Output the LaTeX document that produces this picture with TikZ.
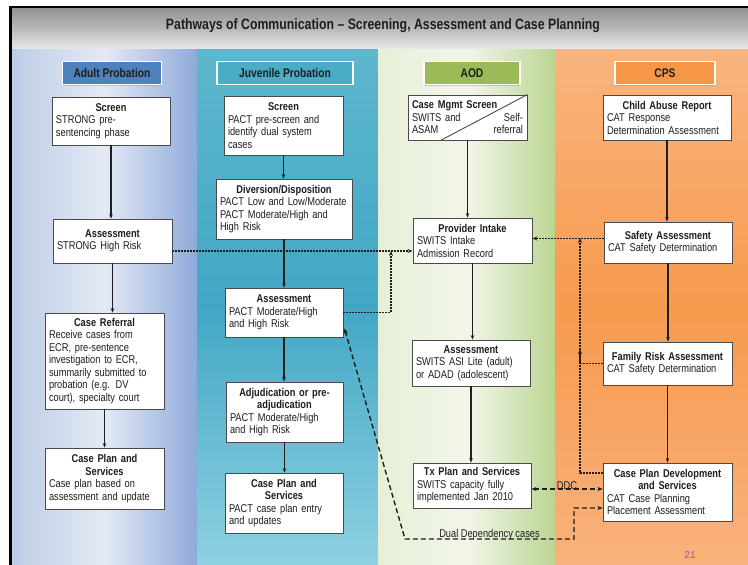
\documentclass[tikz,border=0pt]{standalone}
\usepackage{fontspec}
\setmainfont{Liberation Sans}
\newfontfamily\narrowfont[FakeStretch=0.82]{Liberation Sans}
\newfontfamily\boxfont[FakeStretch=0.82]{Liberation Sans}
\usetikzlibrary{arrows.meta,shadows}

\definecolor{boxline}{HTML}{4A4A4A}
\definecolor{textdark}{HTML}{1E1E1E}
\definecolor{adultA}{HTML}{BCCBE6}
\definecolor{adultB}{HTML}{E4EAF5}
\definecolor{adultC}{HTML}{8FAAD9}
\definecolor{juvA}{HTML}{5EB7CE}
\definecolor{juvB}{HTML}{42A7C5}
\definecolor{juvC}{HTML}{8ED1E2}
\definecolor{aodA}{HTML}{E6EFD6}
\definecolor{aodB}{HTML}{F2F6EA}
\definecolor{aodC}{HTML}{BCD592}
\definecolor{cpsA}{HTML}{F9B57F}
\definecolor{cpsB}{HTML}{F79A4E}
\definecolor{cpsC}{HTML}{F9B27C}
\definecolor{adultlab}{HTML}{4F81BD}
\definecolor{juvlab}{HTML}{4BACC6}
\definecolor{aodlab}{HTML}{9BBB59}
\definecolor{cpslab}{HTML}{F79646}
\definecolor{pagenum}{HTML}{C040B0}

\newcommand\boxhead[1]{{\centering\bfseries #1\par}}

\tikzset{
  stepbox/.style={draw=boxline, fill=white, line width=0.9pt, align=left,
    inner xsep=4pt, inner ysep=2pt, text=textdark,
    font=\boxfont\fontsize{11.3}{12.5}\selectfont},
  colhead/.style={draw=white, line width=1.6pt, minimum height=23pt,
    text=textdark, font=\narrowfont\bfseries\fontsize{12.5}{14}\selectfont,
    drop shadow={opacity=0.35, shadow xshift=0pt, shadow yshift=-1.5pt}},
  flow/.style={draw=textdark, line width=1.1pt, -{Stealth[length=4.5pt,width=3.6pt]}},
  dotline/.style={draw=textdark, line width=1.8pt, dash pattern=on 1.6pt off 1.4pt,
    -{Stealth[length=5pt,width=4pt]}},
  dashline/.style={draw=textdark, line width=1.4pt, dash pattern=on 5pt off 3pt,
    {Stealth[length=5pt,width=4pt]}-{Stealth[length=5pt,width=4pt]}}
}

\begin{document}
\begin{tikzpicture}[x=1pt, y=-1pt]
\useasboundingbox (0,0) rectangle (748,565);
\fill[white] (0,0) rectangle (748,565);

\shade[top color=gray!85, bottom color=gray!18, middle color=gray!55] (11,8) rectangle (748,49);
\shade[left color=adultA, right color=adultC, middle color=adultB] (11,49) rectangle (197,565);
\shade[top color=juvA, bottom color=juvC, middle color=juvB] (197,49) rectangle (378,565);
\shade[left color=aodA, right color=aodC, middle color=aodB] (378,49) rectangle (555,565);
\shade[top color=cpsA, bottom color=cpsC, middle color=cpsB] (555,49) rectangle (748,565);
\draw[black, line width=2.5pt] (10.5,565) -- (10.5,7) -- (748,7);

\node[font=\narrowfont\bfseries\fontsize{15}{17}\selectfont, text=textdark] (title) at (383,26)
  {Pathways of Communication – Screening, Assessment and Case Planning};

\begin{scope}[every node/.style={colhead}]
    \node[fill=adultlab, minimum width=99pt] (hadult) at (112,73) {Adult Probation};
    \node[fill=juvlab, minimum width=136pt] (hjuv) at (285,73) {Juvenile Probation};
    \node[fill=aodlab, minimum width=96pt] (haod) at (472,73) {AOD};
    \node[fill=cpslab, minimum width=100pt] (hcps) at (665,73) {CPS};
\end{scope}

\begin{scope}[every node/.style={stepbox}]
    \node[text width=110pt, minimum height=48pt] (ascreen) at (111,121)
      {\boxhead{Screen}STRONG pre-\\sentencing phase};
    \node[text width=111pt, minimum height=44pt] (aassess) at (112.5,241)
      {\boxhead{Assessment}STRONG High Risk};
    \node[text width=111pt, minimum height=96pt] (areferral) at (104.5,361)
      {\boxhead{Case Referral}Receive cases from\\ECR, pre-sentence\\investigation to ECR,\\summarily submitted to\\probation (e.g. DV\\court), specialty court};
    \node[text width=111pt, minimum height=61pt] (aplan) at (104.5,478.5)
      {\boxhead{Case Plan and\\Services}Case plan based on\\assessment and update};

    \node[text width=111pt, minimum height=59pt] (jscreen) at (283.5,125.5)
      {\boxhead{Screen}PACT pre-screen and\\identify dual system\\cases};
    \node[text width=128pt, minimum height=60pt] (jdiversion) at (284,209)
      {\boxhead{Diversion/Disposition}PACT Low and Low/Moderate\\PACT Moderate/High and\\High Risk};
    \node[text width=110pt, minimum height=49pt] (jassess) at (284,312.5)
      {\boxhead{Assessment}PACT Moderate/High\\and High Risk};
    \node[text width=109pt, minimum height=60pt] (jadjud) at (284.5,412)
      {\boxhead{Adjudication or pre-\\adjudication}PACT Moderate/High\\and High Risk};
    \node[text width=110pt, minimum height=60pt] (jplan) at (284,503)
      {\boxhead{Case Plan and\\Services}PACT case plan entry\\and updates};

    \node[text width=111pt, minimum height=45pt] (oscreen) at (467.5,117.5)
      {\textbf{Case Mgmt Screen}\\SWITS and\hfill Self-\\ASAM\hfill referral};
    \node[text width=111pt, minimum height=45pt] (ointake) at (472.5,240.5)
      {\boxhead{Provider Intake}SWITS Intake\\Admission Record};
    \node[text width=110pt, minimum height=46pt] (oassess) at (471,363)
      {\boxhead{Assessment}SWITS ASI Lite (adult)\\or ADAD (adolescent)};
    \node[text width=110pt, minimum height=45pt] (oplan) at (472,485.5)
      {\boxhead{Tx Plan and Services}SWITS capacity fully\\implemented Jan 2010};

    \node[text width=120pt, minimum height=45pt] (creport) at (667,117.5)
      {\boxhead{Child Abuse Report}CAT Response\\Determination Assessment};
    \node[text width=120pt, minimum height=41pt] (csafety) at (668,242.5)
      {\boxhead{Safety Assessment}CAT Safety Determination};
    \node[text width=121pt, minimum height=43pt] (crisk) at (667.5,363.5)
      {\boxhead{Family Risk Assessment}CAT Safety Determination};
    \node[text width=121pt, minimum height=58pt] (cplan) at (667.5,492)
      {\boxhead{Case Plan Development\\and Services}CAT Case Planning\\Placement Assessment};
\end{scope}

\draw[boxline, line width=0.9pt] (oscreen.north east) -- ([xshift=33pt]oscreen.south west);

\coordinate (jmerge) at (391,251);
\coordinate (cmerge) at (580,238);
\coordinate (cjoin) at (580,349);
\coordinate (ddlow) at (405,539);
\coordinate (ddturn) at (574,539);

\begin{scope}
    \draw[flow] (ascreen.south) -- (ascreen.south |- aassess.north);
    \draw[flow] (aassess.south) -- (aassess.south |- areferral.north);
    \draw[flow] (areferral.south) -- (areferral.south |- aplan.north);
    \draw[flow] (jscreen.south) -- (jscreen.south |- jdiversion.north);
    \draw[flow] (jdiversion.south) -- (jdiversion.south |- jassess.north);
    \draw[flow] (jassess.south) -- (jassess.south |- jadjud.north);
    \draw[flow] (jadjud.south) -- (jadjud.south |- jplan.north);
    \draw[flow] (oscreen.south) -- (oscreen.south |- ointake.north);
    \draw[flow] (ointake.south) -- (ointake.south |- oassess.north);
    \draw[flow] (oassess.south) -- (oassess.south |- oplan.north);
    \draw[flow] (creport.south) -- (creport.south |- csafety.north);
    \draw[flow] (csafety.south) -- (csafety.south |- crisk.north);
    \draw[flow] (crisk.south) -- (crisk.south |- cplan.north);

    \draw[dotline] ([yshift=-10pt]aassess.east) -- ([yshift=-10pt]aassess.east -| ointake.west);
    \draw[dotline] (jassess.east) -| (jmerge);
    \draw[dotline] ([yshift=4pt]csafety.west) -- ([yshift=4pt]csafety.west -| ointake.east);
    \draw[dotline] (crisk.west) -| (cmerge);
    \draw[dotline] ([yshift=19pt]cplan.west) -| (cjoin);

    \draw[dashline] ([yshift=-3.5pt]oplan.east) -- node[above, inner sep=0pt, yshift=-1pt, text=textdark, font=\boxfont\fontsize{11.3}{12}\selectfont] {DDC} ([yshift=-3.5pt]oplan.east -| cplan.west);
    \draw[dashline] ([xshift=1pt,yshift=9pt]jassess.south east) -- (ddlow)
      -- node[above, inner sep=0pt, yshift=-2pt, text=textdark, font=\boxfont\fontsize{11.3}{12}\selectfont] {Dual Dependency cases} (ddturn)
      |- ([yshift=-16pt]cplan.west);
\end{scope}

\node[text=pagenum, font=\fontsize{10}{12}\selectfont] (pageno) at (690,555) {21};
\end{tikzpicture}
\end{document}
